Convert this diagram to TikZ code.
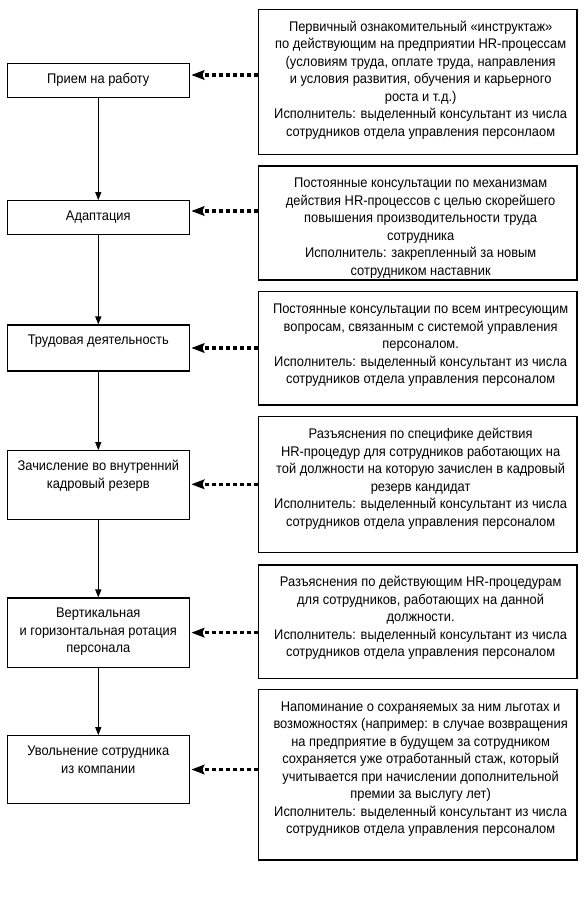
\documentclass[tikz,border=0pt]{standalone}
\usepackage{fontspec}
\setmainfont{Liberation Sans}[FakeStretch=0.92]
\usetikzlibrary{arrows.meta}
\newcommand{\lbx}[3]{\parbox[c][#1][t]{182pt}{\centering\rule{0pt}{19.8pt}#2#3\par}}
\newcommand{\rbx}[2]{\hspace*{6pt}\parbox[c][#1][t]{312.7pt}{\centering\rule{0pt}{21.8pt}#2\par}}
\begin{document}
\begin{tikzpicture}[x=1pt,y=-1pt,
  box/.style={draw, line width=1.1pt, inner sep=0pt, font=\fontsize{14}{17.5}\selectfont},
  flow/.style={line width=1.2pt, -{Triangle[length=8pt,width=6pt]}},
  dotarrow/.style={line width=3.3pt, dash pattern=on 3.5pt off 3.5pt,
    -{Stealth[length=13pt,width=9.5pt,inset=2pt]}, shorten >=1.5pt}]
\useasboundingbox (0,0) rectangle (585,913);
% left column
\node[box] (L1) at (98.3,80.3) {\lbx{34pt}{Прием на работу}{}};
\node[box] (L2) at (98.3,217.5) {\lbx{33.6pt}{Адаптация}{}};
\node[box] (L3) at (98.3,348) {\lbx{46pt}{Трудовая деятельность}{}};
\node[box] (L4) at (98.3,485) {\lbx{68.6pt}{Зачисление во внутренний\\ кадровый резерв}{}};
\node[box] (L5) at (98.3,632.65) {\lbx{69.3pt}{Вертикальная\\ и горизонтальная ротация\\ персонала}{}};
\node[box] (L6) at (98.3,769.5) {\lbx{67.6pt}{Увольнение сотрудника\\ из компании}{}};
% right column
\node[box] (R1) at (417.65,81.8) {\rbx{145pt}{Первичный ознакомительный «инструктаж»\\
 по действующим на предприятии HR-процессам\\
 (условиям труда, оплате труда, направления\\
 и условия развития, обучения и карьерного\\
 роста и т.д.)\\
 Исполнитель: выделенный консультант из числа\\
 сотрудников отдела управления персонлаом}};
\node[box] (R2) at (417.65,223) {\rbx{114pt}{Постоянные консультации по механизмам\\
 действия HR-процессов с целью скорейшего\\
 повышения производительности труда\\
 сотрудника\\
 Исполнитель: закрепленный за новым\\
 сотрудником наставник}};
\node[box] (R3) at (417.65,348.35) {\rbx{113.3pt}{Постоянные консультации по всем интресующим\\
 вопросам, связанным с системой управления\\
 персоналом.\\
 Исполнитель: выделенный консультант из числа\\
 сотрудников отдела управления персоналом}};
\node[box] (R4) at (417.65,484.7) {\rbx{136pt}{Разъяснения по специфике действия\\
 HR-процедур для сотрудников работающих на\\
 той должности на которую зачислен в кадровый\\
 резерв кандидат\\
 Исполнитель: выделенный консультант из числа\\
 сотрудников отдела управления персоналом}};
\node[box] (R5) at (417.65,621.65) {\rbx{113.3pt}{Разъяснения по действующим HR-процедурам\\
 для сотрудников, работающих на данной\\
 должности.\\
 Исполнитель: выделенный консультант из числа\\
 сотрудников отдела управления персоналом}};
\node[box] (R6) at (417.65,774.65) {\rbx{170.7pt}{Напоминание о сохраняемых за ним льготах и\\
 возможностях (например: в случае возвращения\\
 на предприятие в будущем за сотрудником\\
 сохраняется уже отработанный стаж, который\\
 учитывается при начислении дополнительной\\
 премии за выслугу лет)\\
 Исполнитель: выделенный консультант из числа\\
 сотрудников отдела управления персоналом}};
% flow arrows
\draw[flow] (L1) -- (L2);
\draw[flow] (L2) -- (L3);
\draw[flow] (L3) -- (L4);
\draw[flow] (L4) -- (L5);
\draw[flow] (L5) -- (L6);
% dotted arrows
\coordinate (a1) at ([yshift=5.3pt]L1.east);
\coordinate (a2) at ([yshift=6.5pt]L2.east);
\coordinate (a3) at (L3.east);
\coordinate (a4) at ([yshift=0.7pt]L4.east);
\coordinate (a5) at (L5.east);
\coordinate (a6) at (L6.east);
\draw[dotarrow] (R1.west |- a1) -- (a1);
\draw[dotarrow] (R2.west |- a2) -- (a2);
\draw[dotarrow] (R3.west |- a3) -- (a3);
\draw[dotarrow] (R4.west |- a4) -- (a4);
\draw[dotarrow] (R5.west |- a5) -- (a5);
\draw[dotarrow] (R6.west |- a6) -- (a6);
\end{tikzpicture}
\end{document}
